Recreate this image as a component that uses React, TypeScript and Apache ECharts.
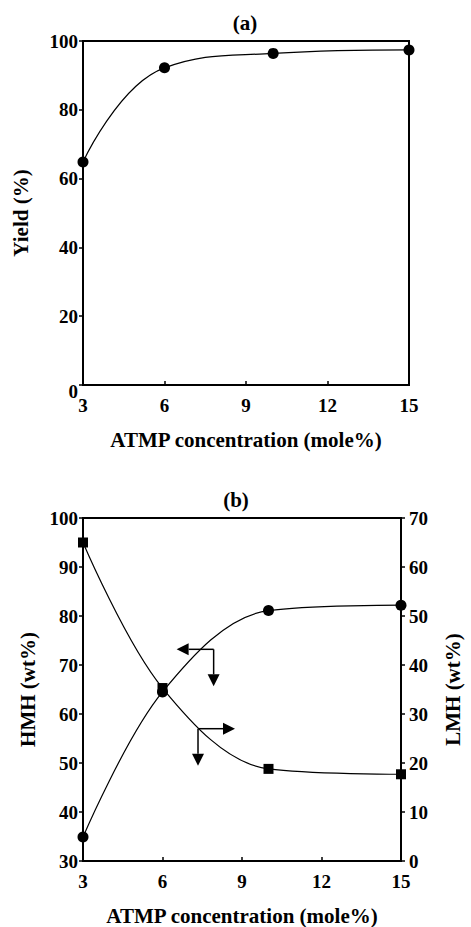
import React, { useEffect, useRef } from 'react';
import * as echarts from 'echarts';

const concentration = [3, 6, 10, 15];
const yieldValues = [64.8, 92.2, 96.4, 97.4];
const hmhValues = [34.9, 64.5, 81.1, 82.2];
const lmhValues = [65.0, 35.3, 18.8, 17.7];

const FONT = '"Liberation Serif", "Times New Roman", serif';
const BLACK = '#000';

// arrow annotations in data coordinates: corner point and directions
const hmhArrow = { x: 7.93, y: 73.2 };
const lmhArrow = { x: 7.34, y: 27.0 };

export default function App() {
  const ref = useRef<HTMLDivElement>(null);
  useEffect(() => {
    if (!ref.current) return;
    const chart = echarts.init(ref.current, undefined, { renderer: 'svg' });
    const labelStyle = { color: BLACK, fontFamily: FONT, fontWeight: 'bold' as const, fontSize: 19 };
    const nameStyle = { color: BLACK, fontFamily: FONT, fontWeight: 'bold' as const, fontSize: 21 };
    const axisLine = { show: true, lineStyle: { color: BLACK, width: 2 } };
    const xAxisCommon = (gridIndex: number) => ({
      type: 'value',
      gridIndex,
      min: 3,
      max: 15,
      interval: 3,
      name: 'ATMP concentration (mole%)',
      nameLocation: 'middle',
      nameGap: 44,
      nameTextStyle: nameStyle,
      axisLine,
      axisTick: { show: true, inside: true, length: 4, lineStyle: { color: BLACK, width: 1.5 } },
      axisLabel: { ...labelStyle, margin: 11 },
      splitLine: { show: false },
    });
    const option: any = {
      animation: false,
      backgroundColor: '#fff',
      textStyle: { fontFamily: FONT },
      grid: [
        { left: 83, top: 41, width: 326, height: 344, show: true, borderColor: BLACK, borderWidth: 2, backgroundColor: 'transparent' },
        { left: 83, top: 518, width: 326, height: 345, show: true, borderColor: BLACK, borderWidth: 2, backgroundColor: 'transparent' },
      ],
      xAxis: [xAxisCommon(0), xAxisCommon(1)],
      yAxis: [
        {
          type: 'value', gridIndex: 0, min: 0, max: 100, interval: 20,
          name: 'Yield (%)', nameLocation: 'middle', nameGap: 52, nameRotate: 90, nameTextStyle: nameStyle,
          axisLine, axisTick: { show: true, length: 4, lineStyle: { color: BLACK, width: 1.5 } },
          axisLabel: {
            ...labelStyle, margin: 5,
            formatter: (v: number) => (v === 0 ? '{z|0}' : String(v)),
            rich: { z: { ...labelStyle, padding: [12, 0, 0, 0] } },
          },
          splitLine: { show: false },
        },
        {
          type: 'value', gridIndex: 1, min: 30, max: 100, interval: 10,
          name: 'HMH (wt%)', nameLocation: 'middle', nameGap: 38, nameRotate: 90, nameTextStyle: nameStyle,
          axisLine, axisTick: { show: true, length: 4, lineStyle: { color: BLACK, width: 1.5 } },
          axisLabel: { ...labelStyle, margin: 5 },
          splitLine: { show: false },
        },
        {
          type: 'value', gridIndex: 1, position: 'right', min: 0, max: 70, interval: 10,
          name: 'LMH (wt%)', nameLocation: 'middle', nameGap: 41, nameRotate: 90, nameTextStyle: nameStyle,
          axisLine, axisTick: { show: true, length: 4, lineStyle: { color: BLACK, width: 1.5 } },
          axisLabel: { ...labelStyle, margin: 8, padding: [10, 0, 0, 0] },
          splitLine: { show: false },
        },
      ],
      series: [
        {
          type: 'line', xAxisIndex: 0, yAxisIndex: 0, smooth: 0.45,
          data: concentration.map((c, i) => [c, yieldValues[i]]),
          symbol: 'circle', symbolSize: 11,
          itemStyle: { color: BLACK }, lineStyle: { color: BLACK, width: 1.2 },
        },
        {
          type: 'line', xAxisIndex: 1, yAxisIndex: 1, smooth: 0.35,
          data: concentration.map((c, i) => [c, hmhValues[i]]),
          symbol: 'circle', symbolSize: 11,
          itemStyle: { color: BLACK }, lineStyle: { color: BLACK, width: 1.2 },
        },
        {
          type: 'line', xAxisIndex: 1, yAxisIndex: 2, smooth: 0.35,
          data: concentration.map((c, i) => [c, lmhValues[i]]),
          symbol: 'rect', symbolSize: 10,
          itemStyle: { color: BLACK }, lineStyle: { color: BLACK, width: 1.2 },
        },
      ],
    };
    chart.setOption(option);

    const arrowLen = 37;
    const head = 12;
    const hw = 6;
    const mkArrow = (px: number[], dirs: string[]) => {
      const els: any[] = [];
      const [cx, cy] = px;
      for (const d of dirs) {
        let tx = cx, ty = cy, pts: number[][] = [];
        if (d === 'left') { tx = cx - arrowLen; pts = [[tx, ty], [tx + head, ty - hw], [tx + head, ty + hw]]; }
        if (d === 'right') { tx = cx + arrowLen; pts = [[tx, ty], [tx - head, ty - hw], [tx - head, ty + hw]]; }
        if (d === 'down') { ty = cy + arrowLen; pts = [[tx, ty], [tx - hw, ty - head], [tx + hw, ty - head]]; }
        const lx = d === 'left' ? tx + head : d === 'right' ? tx - head : tx;
        const ly = d === 'down' ? ty - head : ty;
        els.push({ type: 'line', shape: { x1: cx, y1: cy, x2: lx, y2: ly }, style: { stroke: BLACK, lineWidth: 1.5 }, z: 10 });
        els.push({ type: 'polygon', shape: { points: pts }, style: { fill: BLACK }, z: 10 });
      }
      return els;
    };
    const p1 = chart.convertToPixel({ xAxisIndex: 1, yAxisIndex: 1 } as any, [hmhArrow.x, hmhArrow.y]) as number[];
    const p2 = chart.convertToPixel({ xAxisIndex: 1, yAxisIndex: 2 } as any, [lmhArrow.x, lmhArrow.y]) as number[];
    chart.setOption({
      graphic: [
        { type: 'text', x: 245, y: 23, style: { text: '(a)', fill: BLACK, align: 'center', verticalAlign: 'middle', fontFamily: FONT, fontWeight: 'bold', fontSize: 21 } },
        { type: 'text', x: 236, y: 500, style: { text: '(b)', fill: BLACK, align: 'center', verticalAlign: 'middle', fontFamily: FONT, fontWeight: 'bold', fontSize: 21 } },
        ...mkArrow(p1, ['left', 'down']),
        ...mkArrow(p2, ['right', 'down']),
      ],
    });
    return () => chart.dispose();
  }, []);
  return <div ref={ref} style={{ position: 'absolute', left: 0, top: 0, width: 471, height: 927 }} />;
}
